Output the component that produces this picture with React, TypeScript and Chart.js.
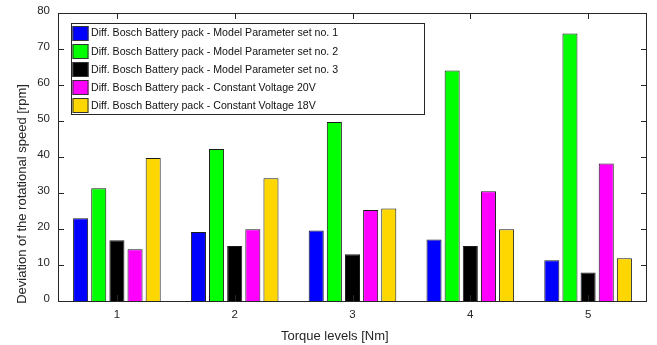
import React, { useEffect, useRef } from "react";
import { Chart, registerables } from "chart.js";

Chart.register(...registerables);

const categories = ["1", "2", "3", "4", "5"];
const seriesLabels = [
  "Diff. Bosch Battery pack - Model Parameter set no. 1",
  "Diff. Bosch Battery pack - Model Parameter set no. 2",
  "Diff. Bosch Battery pack - Model Parameter set no. 3",
  "Diff. Bosch Battery pack - Constant Voltage 20V",
  "Diff. Bosch Battery pack - Constant Voltage 18V",
];
const set1 = [23.0, 19.2, 19.6, 17.1, 11.3];
const set2 = [31.3, 42.2, 49.7, 64.0, 74.3];
const set3 = [16.9, 15.3, 13.0, 15.3, 7.9];
const cv20 = [14.4, 19.9, 25.3, 30.5, 38.2];
const cv18 = [39.7, 34.1, 25.7, 19.9, 11.9];
const colors = ["#0000ff", "#00ff00", "#000000", "#ff00ff", "#ffd700"];
const yTicks = [0, 10, 20, 30, 40, 50, 60, 70, 80];
const xTitle = "Torque levels [Nm]";
const yTitle = "Deviation of the rotational speed [rpm]";

const FONT = "'Liberation Sans', Arial, Helvetica, sans-serif";
const AXIS = "#262626";

const framePlugin = {
  id: "frameTicks",
  afterDatasetsDraw(chart: any) {
    const { ctx, chartArea } = chart;
    const { left, right, top, bottom } = chartArea;
    const xs = chart.scales.x;
    const ys = chart.scales.y;
    const L = 6;
    ctx.save();
    ctx.strokeStyle = AXIS;
    ctx.lineWidth = 1;
    ctx.beginPath();
    categories.forEach((_, i) => {
      const px = Math.round(xs.getPixelForValue(i)) + 0.5;
      ctx.moveTo(px, bottom);
      ctx.lineTo(px, bottom - L);
      ctx.moveTo(px, top);
      ctx.lineTo(px, top + L);
    });
    yTicks.forEach((v) => {
      const py = Math.round(ys.getPixelForValue(v)) + 0.5;
      ctx.moveTo(left, py);
      ctx.lineTo(left + L, py);
      ctx.moveTo(right, py);
      ctx.lineTo(right - L, py);
    });
    ctx.stroke();
    ctx.strokeRect(Math.round(left) + 0.5, Math.round(top) + 0.5, Math.round(right - left) - 1, Math.round(bottom - top));

    // axis titles
    ctx.fillStyle = AXIS;
    ctx.font = `13px ${FONT}`;
    ctx.textAlign = "center";
    ctx.textBaseline = "middle";
    ctx.fillText(xTitle, left + (right - left) * 0.47, bottom + 35);
    ctx.save();
    ctx.translate(22.5, 194);
    ctx.rotate(-Math.PI / 2);
    ctx.fillText(yTitle, 0, 0);
    ctx.restore();
    ctx.restore();

    // legend
    const bx = Math.round(left) + 13.5;
    const by = Math.round(top) + 10.5;
    const bw = 353;
    const rowH = 18.2;
    const bh = 91;
    ctx.save();
    ctx.fillStyle = "#ffffff";
    ctx.fillRect(bx, by, bw, bh);
    ctx.strokeStyle = AXIS;
    ctx.lineWidth = 1;
    ctx.strokeRect(bx, by, bw, bh);
    ctx.font = `10.6px ${FONT}`;
    ctx.textBaseline = "middle";
    ctx.textAlign = "left";
    chart.data.datasets.forEach((ds: any, i: number) => {
      const cy = by + 9.5 + i * rowH;
      const sx = bx + 1;
      const sy = Math.round(cy - 7.5);
      ctx.fillStyle = ds.backgroundColor;
      ctx.fillRect(sx, sy, 16, 15);
      ctx.strokeStyle = "#333";
      ctx.strokeRect(sx + 0.5, sy + 0.5, 15, 14);
      ctx.fillStyle = "#111";
      ctx.fillText(ds.label, sx + 18.5, cy + 0.5);
    });
    ctx.restore();
  },
};

export default function App() {
  const ref = useRef<HTMLCanvasElement>(null);
  useEffect(() => {
    if (!ref.current) return;
    const data = [set1, set2, set3, cv20, cv18];
    const chart = new Chart(ref.current, {
      type: "bar",
      data: {
        labels: categories,
        datasets: data.map((d, i) => ({
          label: seriesLabels[i],
          data: d,
          backgroundColor: colors[i],
          borderColor: "#1a1a1a",
          borderWidth: 1,
          categoryPercentage: 0.77,
          barPercentage: 0.83,
        })),
      },
      options: {
        responsive: false,
        animation: false,
        devicePixelRatio: 1,
        layout: { padding: { left: 0, right: 10, top: 13, bottom: 0 } },
        plugins: { legend: { display: false }, tooltip: { enabled: false } },
        scales: {
          x: {
            type: "category",
            offset: true,
            grid: { display: false, drawTicks: false },
            border: { display: false },
            ticks: { color: AXIS, font: { family: FONT, size: 11.5 }, padding: 7 },
            title: { display: false, text: xTitle },
            afterFit: (s: any) => {
              s.height = 44;
              s.paddingLeft = 0;
              s.paddingRight = 0;
            },
          },
          y: {
            min: 0,
            max: 80,
            grid: { display: false, drawTicks: false },
            border: { display: false },
            afterBuildTicks: (s: any) => {
              s.ticks = yTicks.map((v) => ({ value: v }));
            },
            ticks: { color: AXIS, font: { family: FONT, size: 11.5 }, padding: 8, labelOffset: -2.5 },
            title: { display: false, text: yTitle },
            afterFit: (s: any) => {
              s.width = 58;
              s.paddingTop = 0;
              s.paddingBottom = 0;
            },
          },
        },
      },
      plugins: [framePlugin],
    } as any);
    return () => chart.destroy();
  }, []);
  return (
    <div style={{ position: "absolute", left: 0, top: 0, width: 657, height: 345, background: "#fff" }}>
      <canvas ref={ref} width={657} height={345} style={{ display: "block" }} />
    </div>
  );
}
